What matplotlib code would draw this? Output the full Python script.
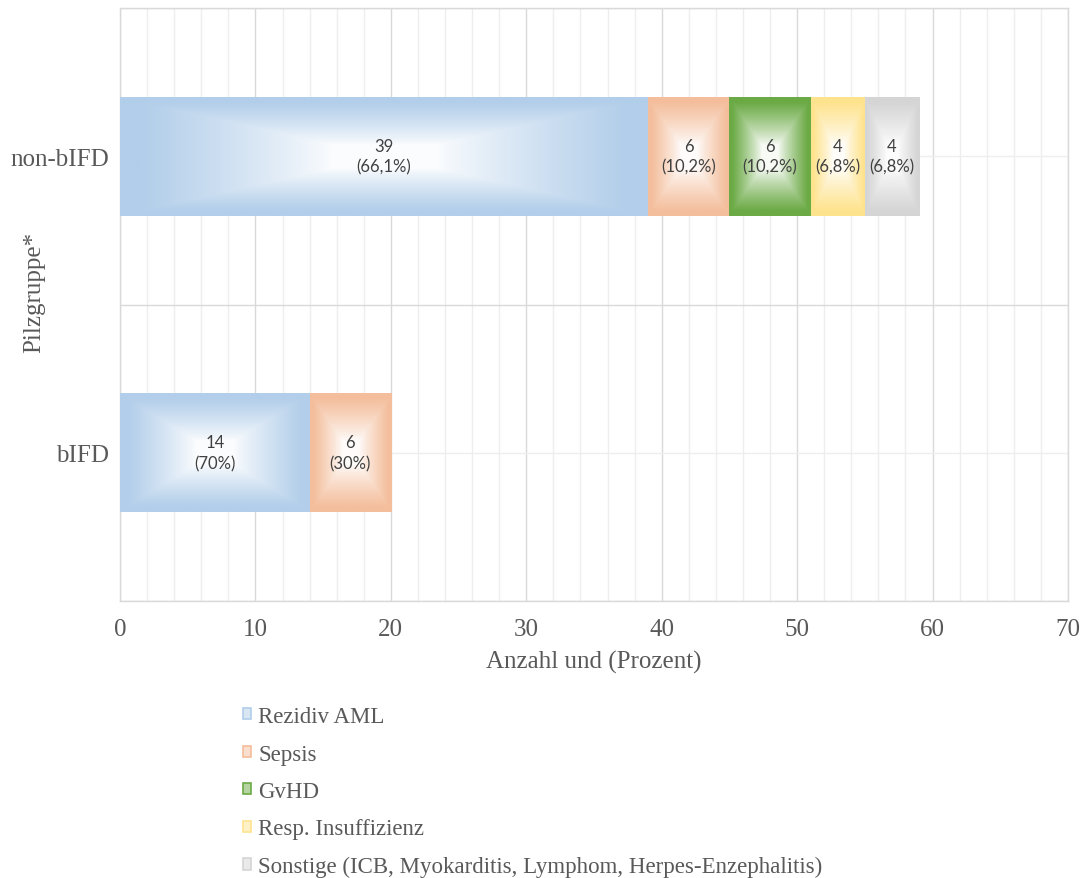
import numpy as np
import matplotlib.pyplot as plt
from matplotlib.patches import Patch
from matplotlib.colors import to_rgb

# Todesursachen je Pilzgruppe (Anzahl)
groups = ['bIFD', 'non-bIFD']
causes = ['Rezidiv AML', 'Sepsis', 'GvHD', 'Resp. Insuffizienz',
          'Sonstige (ICB, Myokarditis, Lymphom, Herpes-Enzephalitis)']
rezidiv_aml = [14, 39]
sepsis = [6, 6]
gvhd = [0, 6]
resp_insuff = [0, 4]
sonstige = [0, 4]
series = [rezidiv_aml, sepsis, gvhd, resp_insuff, sonstige]

colors = ['#b2ceea', '#f4be9c', '#6baa45', '#fee38e', '#d5d5d5']
text_grey = '#595959'
serif = 'Liberation Serif'


def fmt_pct(v, total):
    p = round(100.0 * v / total, 1)
    s = f'{p:.1f}'.replace('.', ',')
    if s.endswith(',0'):
        s = s[:-2]
    return f'({s}%)'


def rect_gradient(color, nx=240, ny=80):
    # light centre fading out to the series colour at the edges
    x = np.linspace(-1, 1, nx)
    y = np.linspace(-1, 1, ny)
    X, Y = np.meshgrid(x, y)
    t = np.maximum(np.abs(X), np.abs(Y))
    s = np.clip((t - 0.2) / 0.72, 0, 1) ** 0.85
    s = (0.05 + 0.95 * s)[..., None]
    c = np.array(to_rgb(color))
    return (1 - s) * np.ones(3) + s * c


fig = plt.figure(figsize=(10.88, 8.79), dpi=100)
ax = fig.add_axes([0.1103, 0.3151, 0.8713, 0.6746])

ypos = np.arange(len(groups))
totals = np.sum(series, axis=0)
left = np.zeros(len(groups))
for vals, col, name in zip(series, colors, causes):
    bars = ax.barh(ypos, vals, left=left, height=0.4, color=col,
                   edgecolor='none', zorder=3, label=name)
    for bar, v, tot in zip(bars, vals, totals):
        if v == 0:
            continue
        x0, y0 = bar.get_x(), bar.get_y()
        w, h = bar.get_width(), bar.get_height()
        img = ax.imshow(rect_gradient(col), extent=(x0, x0 + w, y0, y0 + h),
                        aspect='auto', interpolation='bilinear', zorder=4)
        img.set_clip_path(bar)
        ax.text(x0 + w / 2, y0 + h / 2, f'{v}\n{fmt_pct(v, tot)}',
                ha='center', va='center', fontsize=12, family='Lato',
                color='#404040', linespacing=1.35, zorder=5)
    left = left + np.array(vals)

ax.set_xlim(0, 70)
ax.set_ylim(-0.5, 1.5)
ax.set_xticks(range(0, 71, 10))
ax.set_xticks(range(0, 71, 2), minor=True)
ax.set_yticks(ypos)
ax.set_yticklabels(groups)
ax.set_yticks([-0.5, 0.5, 1.5], minor=True)

ax.grid(which='major', axis='x', color='#d9d9d9', lw=1, zorder=0)
ax.grid(which='minor', axis='x', color='#eeeeee', lw=1, zorder=0)
ax.grid(which='major', axis='y', color='#eeeeee', lw=1, zorder=0)
ax.grid(which='minor', axis='y', color='#d9d9d9', lw=1, zorder=0)
ax.set_axisbelow(True)
for sp in ax.spines.values():
    sp.set_color('#d9d9d9')
    sp.set_linewidth(1)

ax.tick_params(which='both', length=0)
ax.tick_params(axis='x', pad=12, labelsize=18, labelcolor=text_grey)
ax.tick_params(axis='y', pad=8, labelsize=18, labelcolor=text_grey)
for lab in ax.get_xticklabels() + ax.get_yticklabels():
    lab.set_family(serif)

ax.set_xlabel('Anzahl und (Prozent)', family=serif, fontsize=18,
              color=text_grey, labelpad=7)
fig.text(0.031, 1 - 292 / 879, 'Pilzgruppe*', rotation=90, family=serif,
         fontsize=18, color=text_grey, ha='center', va='center')

handles = [Patch(facecolor=to_rgb(c) * np.array(0.5) + 0.5, edgecolor=c, lw=1.2,
                 label=n) for c, n in zip(colors, causes)]
fig.legend(handles=handles, loc='upper left', bbox_to_anchor=(0.223, 1 - 707 / 879),
           frameon=False, handlelength=0.38, handleheight=0.38, handletextpad=0.3,
           labelspacing=0.72, prop={'family': serif, 'size': 16.5},
           labelcolor=text_grey, borderaxespad=0, borderpad=0)

fig.savefig('out.png', dpi=100)
